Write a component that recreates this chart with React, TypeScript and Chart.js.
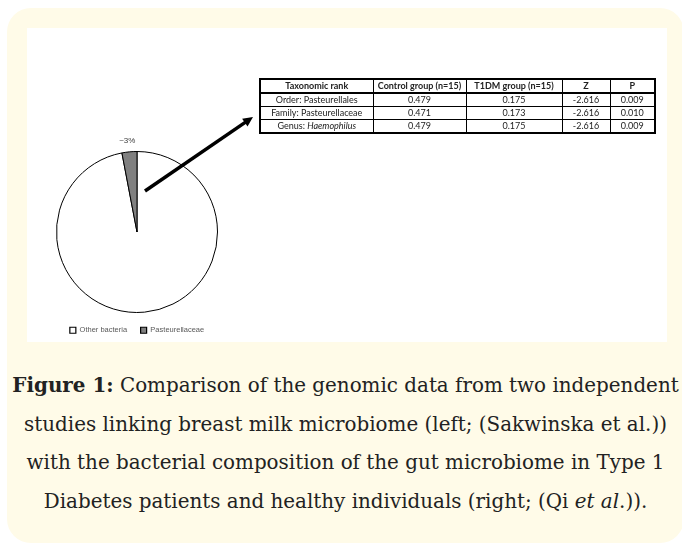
import React, { useEffect, useRef } from "react";
import { Chart, registerables } from "chart.js";

Chart.register(...registerables);

// ---- data ----
const categories = ["Other bacteria", "Pasteurellaceae"];
const shares = [97, 3];
const sliceLabels = ["", "~3%"];
const sliceColors = ["#ffffff", "#808080"];

const tableHeaders = ["Taxonomic rank", "Control group (n=15)", "T1DM group (n=15)", "Z", "P"];
const rankLevels = ["Order", "Family", "Genus"];
const taxa = ["Pasteurellales", "Pasteurellaceae", "Haemophilus"];
const italicTaxa = [false, false, true];
const controlValues = ["0.479", "0.471", "0.479"];
const t1dmValues = ["0.175", "0.173", "0.175"];
const zValues = ["-2.616", "-2.616", "-2.616"];
const pValues = ["0.009", "0.010", "0.009"];

const captionLines = [
  "Comparison of the genomic data from two independent",
  "studies linking breast milk microbiome (left; (Sakwinska et al.))",
  "with the bacterial composition of the gut microbiome in Type 1",
  "Diabetes patients and healthy individuals (right; (Qi ",
];

// layout constants
const PANEL_W = 640;
const PANEL_H = 314;
const CANVAS_H = 316;
const TABLE_LEFT = 232;
const TABLE_TOP = 50;
const colWidths = [113, 93, 96, 48, 45];

export default function App() {
  const canvasRef = useRef<HTMLCanvasElement | null>(null);

  useEffect(() => {
    document.body.style.margin = "0";
    const canvas = canvasRef.current;
    if (!canvas) return;

    const overlay = {
      id: "overlay",
      afterDraw(chart: any) {
        const ctx = chart.ctx;
        const meta = chart.getDatasetMeta(0);
        const arc0 = meta.data[0];
        const cx = arc0.x;
        const cy = arc0.y;
        // slice labels
        ctx.save();
        ctx.font = "8px 'Liberation Sans', sans-serif";
        ctx.fillStyle = "#404040";
        ctx.textAlign = "center";
        ctx.textBaseline = "middle";
        meta.data.forEach((arc: any, i: number) => {
          if (!sliceLabels[i]) return;
          const mid = (arc.startAngle + arc.endAngle) / 2;
          const r = arc.outerRadius + 12;
          ctx.fillText(sliceLabels[i], cx + Math.cos(mid) * r - 1, cy + Math.sin(mid) * r + 1);
        });
        // arrow from pie to table
        const sx = cx + 8;
        const sy = cy - 41;
        const ex = TABLE_LEFT - 6;
        const ey = TABLE_TOP + 39;
        const ang = Math.atan2(ey - sy, ex - sx);
        const head = 11;
        ctx.strokeStyle = "#000";
        ctx.fillStyle = "#000";
        ctx.lineWidth = 3.5;
        ctx.lineCap = "butt";
        ctx.beginPath();
        ctx.moveTo(sx, sy);
        ctx.lineTo(ex - Math.cos(ang) * head * 0.7, ey - Math.sin(ang) * head * 0.7);
        ctx.stroke();
        ctx.beginPath();
        ctx.moveTo(ex, ey);
        ctx.lineTo(ex - Math.cos(ang - 0.45) * head, ey - Math.sin(ang - 0.45) * head);
        ctx.lineTo(ex - Math.cos(ang + 0.45) * head, ey - Math.sin(ang + 0.45) * head);
        ctx.closePath();
        ctx.fill();
        ctx.restore();
      },
    };

    const chart = new Chart(canvas, {
      type: "pie",
      data: {
        labels: categories,
        datasets: [
          {
            data: shares,
            backgroundColor: sliceColors,
            borderColor: "#000",
            borderWidth: 1,
          },
        ],
      },
      options: {
        animation: false,
        responsive: false,
        maintainAspectRatio: false,
        layout: { padding: { left: 0, right: 420, top: 123, bottom: 0 } },
        plugins: {
          tooltip: { enabled: false },
          legend: {
            position: "bottom",
            labels: {
              boxWidth: 6,
              boxHeight: 6,
              padding: 13.5,
              color: "#595959",
              font: { size: 7.5, family: "'Liberation Sans', sans-serif" },
              generateLabels: () =>
                categories.map((c, i) => ({
                  text: c,
                  fillStyle: sliceColors[i],
                  strokeStyle: "#000",
                  lineWidth: 1.2,
                  hidden: false,
                  index: i,
                  fontColor: "#595959",
                })),
            },
          },
        },
      },
      plugins: [overlay],
    } as any);
    return () => chart.destroy();
  }, []);

  const cellBase: React.CSSProperties = {
    border: "1px solid #000",
    padding: 0,
    textAlign: "center",
    whiteSpace: "nowrap",
    overflow: "hidden",
    lineHeight: "12px",
    height: 12,
  };

  return (
    <div
      style={{
        position: "fixed",
        left: 0,
        top: 0,
        width: 682,
        height: 544,
        background: "#fff",
        overflow: "hidden",
      }}
    >
      <div
        style={{
          position: "absolute",
          left: 7,
          top: 8,
          width: 677,
          height: 535,
          background: "#FFFBE8",
          borderRadius: 24,
        }}
      />
      <div
        style={{
          position: "absolute",
          left: 27,
          top: 28,
          width: PANEL_W,
          height: PANEL_H,
          background: "#fff",
        }}
      >
        <canvas
          ref={canvasRef}
          width={PANEL_W}
          height={CANVAS_H}
          style={{ position: "absolute", left: 0, top: 0, width: PANEL_W, height: CANVAS_H }}
        />
        <table
          style={{
            position: "absolute",
            left: TABLE_LEFT,
            top: TABLE_TOP,
            borderCollapse: "collapse",
            tableLayout: "fixed",
            border: "2px solid #000",
            fontFamily: "Lato, 'Liberation Sans', sans-serif",
            fontSize: 9,
            color: "#222",
          }}
        >
          <colgroup>
            {colWidths.map((w, i) => (
              <col key={i} style={{ width: w }} />
            ))}
          </colgroup>
          <thead>
            <tr>
              {tableHeaders.map((h, i) => (
                <th
                  key={i}
                  style={{ ...cellBase, fontWeight: 700, borderBottom: "2px solid #000" }}
                >
                  {h}
                </th>
              ))}
            </tr>
          </thead>
          <tbody>
            {rankLevels.map((lvl, r) => (
              <tr key={r}>
                <td style={cellBase}>
                  {lvl}:{" "}
                  {italicTaxa[r] ? <i>{taxa[r]}</i> : taxa[r]}
                </td>
                <td style={cellBase}>{controlValues[r]}</td>
                <td style={cellBase}>{t1dmValues[r]}</td>
                <td style={cellBase}>{zValues[r]}</td>
                <td style={cellBase}>{pValues[r]}</td>
              </tr>
            ))}
          </tbody>
        </table>
      </div>
      <div
        style={{
          position: "absolute",
          left: 7,
          top: 366,
          width: 677,
          textAlign: "center",
          fontFamily: "'DejaVu Serif', serif",
          fontSize: 19.9,
          lineHeight: "38.5px",
          color: "#222",
          whiteSpace: "nowrap",
        }}
      >
        <div>
          <b>Figure 1:</b> {captionLines[0]}
        </div>
        <div>{captionLines[1]}</div>
        <div>{captionLines[2]}</div>
        <div>
          {captionLines[3]}
          <i>et al</i>.)).
        </div>
      </div>
    </div>
  );
}
